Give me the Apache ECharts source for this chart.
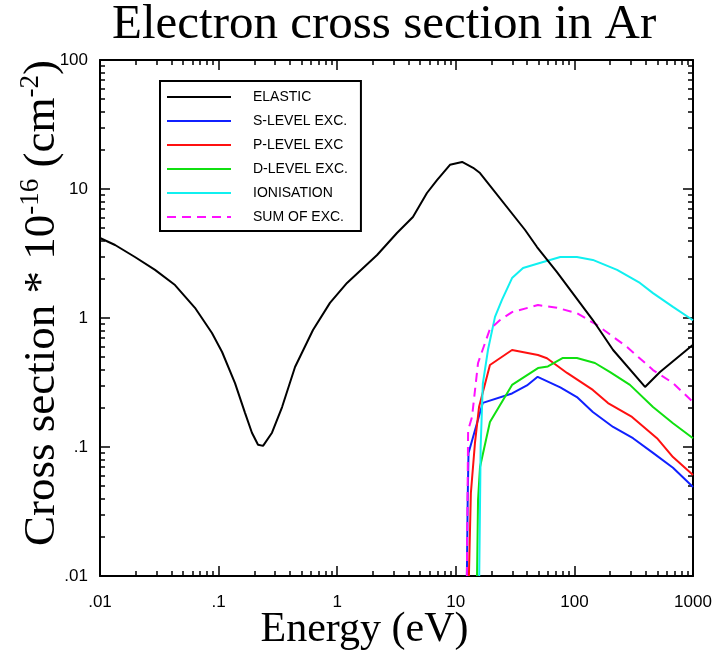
<!DOCTYPE html>
<html><head><meta charset="utf-8">
<script src="https://cdn.jsdelivr.net/npm/echarts@6/dist/echarts.min.js"></script>
<style>html,body{margin:0;padding:0;background:#fff}#c{width:721px;height:650px}</style>
</head><body><div id="c"></div>
<script>
// ---- tick values / labels ----
const xTickValues = [0.01, 0.1, 1, 10, 100, 1000];
const xTickLabels = ['.01', '.1', '1', '10', '100', '1000'];
const yTickValues = [0.01, 0.1, 1, 10, 100];
const yTickLabels = ['.01', '.1', '1', '10', '100'];
const xMinorTicks = [0.02,0.03,0.04,0.05,0.06,0.07,0.08,0.09,
  0.2,0.3,0.4,0.5,0.6,0.7,0.8,0.9, 2,3,4,5,6,7,8,9,
  20,30,40,50,60,70,80,90, 200,300,400,500,600,700,800,900];
const yMinorTicks = [0.02,0.03,0.04,0.05,0.06,0.07,0.08,0.09,
  0.2,0.3,0.4,0.5,0.6,0.7,0.8,0.9, 2,3,4,5,6,7,8,9,
  20,30,40,50,60,70,80,90];

// ---- series data: [energy eV, cross section 1e-16 cm^2] ----
const elastic = [[0.01,4.17],[0.0134,3.68],[0.0197,2.97],[0.0291,2.36],[0.0429,1.80],[0.0632,1.20],
  [0.0879,0.765],[0.107,0.545],[0.1375,0.313],[0.167,0.184],[0.191,0.129],[0.215,0.104],[0.237,0.102],
  [0.282,0.129],[0.343,0.204],[0.441,0.417],[0.625,0.807],[0.869,1.31],[1.21,1.87],[2.17,3.08],
  [3.19,4.56],[4.35,6.07],[5.71,9.31],[6.94,11.7],[8.93,15.4],[11.3,16.2],[14.0,14.6],[16.0,13.3],
  [38.4,4.81],[48.4,3.55],[71.3,2.27],[143,0.964],[212,0.565],[394,0.292],[527,0.381],[1000,0.62]];
const sLevel = [[12.4,0.01],[12.6,0.04],[12.8,0.09],[16.9,0.22],[29.8,0.26],[39.8,0.30],[49,0.35],
  [76,0.29],[105,0.244],[143,0.187],[212,0.143],[312,0.117],[460,0.09],[678,0.069],[1000,0.049]];
const pLevel = [[12.9,0.01],[13.4,0.044],[14.5,0.107],[15.7,0.204],[19.4,0.432],[29.8,0.565],[49.3,0.516],
  [58.7,0.488],[86.7,0.375],[143,0.277],[192,0.219],[306,0.171],[497,0.117],[678,0.0836],[1000,0.0607]];
const dLevel = [[15.1,0.01],[15.4,0.039],[16.0,0.070],[19.4,0.156],[29.8,0.303],[49.3,0.409],[59.8,0.421],
  [80,0.49],[105,0.49],[149,0.448],[200,0.381],[294,0.303],[460,0.204],[678,0.153],[1000,0.117]];
const ionisation = [[15.76,0.01],[16.2,0.1],[16.9,0.31],[18.7,0.57],[21.4,1.02],[24.5,1.38],[29.8,2.04],
  [36.9,2.44],[51,2.67],[76,2.97],[105,2.97],[143,2.82],[229,2.36],[357,1.87],[460,1.56],[678,1.22],[1000,0.96]];
const sumExc = [[12.4,0.01],[12.7,0.135],[13.7,0.171],[15.4,0.448],[19.4,0.822],[23.6,0.964],[29.8,1.11],
  [49.3,1.26],[71.3,1.20],[105,1.09],[155,0.883],[278,0.596],[460,0.395],[678,0.313],[1000,0.223]];

const seriesNames = ['ELASTIC', 'S-LEVEL EXC.', 'P-LEVEL EXC', 'D-LEVEL EXC.', 'IONISATION', 'SUM OF EXC.'];
const seriesData = [elastic, sLevel, pLevel, dLevel, ionisation, sumExc];
const seriesColors = ['#000000', '#1020ff', '#ff1010', '#10e010', '#10f0f0', '#ff10ff'];
const seriesDash = ['solid', 'solid', 'solid', 'solid', 'solid', [9, 6]];

const labelFont = { fontFamily: 'Liberation Sans, Arial, sans-serif', fontSize: 17, color: '#000' };
function fmt(values, labels) {
  return function (v) {
    for (let i = 0; i < values.length; i++) if (Math.abs(v / values[i] - 1) < 1e-6) return labels[i];
    return '';
  };
}
function xAx(pos, ticks, len, showLine, showLabel) {
  return {
    type: 'log', logBase: 10, position: pos, min: 0.01, max: 1000, gridIndex: 0,
    axisLine: { show: showLine, onZero: false, lineStyle: { color: '#000', width: 2 } },
    axisTick: { show: true, inside: true, length: len, customValues: ticks, lineStyle: { color: '#000', width: 1.5 } },
    axisLabel: showLabel ? Object.assign({ show: true, margin: 18, customValues: xTickValues, formatter: fmt(xTickValues, xTickLabels) }, labelFont) : { show: false },
    splitLine: { show: false }, minorTick: { show: false }
  };
}
function yAx(pos, ticks, len, showLine, showLabel) {
  return {
    type: 'log', logBase: 10, position: pos, min: 0.01, max: 100, gridIndex: 0,
    axisLine: { show: showLine, onZero: false, lineStyle: { color: '#000', width: 2 } },
    axisTick: { show: true, inside: true, length: len, customValues: ticks, lineStyle: { color: '#000', width: 1.5 } },
    axisLabel: showLabel ? Object.assign({ show: true, margin: 12, customValues: yTickValues, formatter: fmt(yTickValues, yTickLabels) }, labelFont) : { show: false },
    splitLine: { show: false }, minorTick: { show: false }
  };
}

const xAxes = [xAx('bottom', xTickValues, 10, true, true), xAx('top', xTickValues, 10, true, false),
  xAx('bottom', xMinorTicks, 5, false, false), xAx('top', xMinorTicks, 5, false, false)];
const yAxes = [yAx('left', yTickValues, 10, true, true), yAx('right', yTickValues, 10, true, false),
  yAx('left', yMinorTicks, 5, false, false), yAx('right', yMinorTicks, 5, false, false)];

// Axis names
xAxes[0].name = 'Energy (eV)';
xAxes[0].nameLocation = 'middle';
xAxes[0].nameGap = 33;
xAxes[0].nameMoveOverlap = false;
xAxes[0].nameTextStyle = { fontFamily: 'Liberation Serif, Times New Roman, serif', fontSize: 42, color: '#000', padding: [0, 64, 0, 0] };

yAxes[0].name = '{m|Cross section * 10}{s|-16}{m| (cm}{s|-2}{m|)}';
yAxes[0].nameLocation = 'middle';
yAxes[0].nameGap = 33;
yAxes[0].nameMoveOverlap = false;
yAxes[0].nameRotate = 90;
yAxes[0].nameTextStyle = {
  fontFamily: 'Liberation Serif, Times New Roman, serif', fontSize: 45, color: '#000', padding: [0, 0, 0, 30],
  rich: {
    m: { fontFamily: 'Liberation Serif, Times New Roman, serif', fontSize: 45, color: '#000', lineHeight: 50 },
    s: { fontFamily: 'Liberation Serif, Times New Roman, serif', fontSize: 27, color: '#000', verticalAlign: 'top', lineHeight: 27 }
  }
};

const series = seriesNames.map((n, i) => ({
  name: n, type: 'line', xAxisIndex: 0, yAxisIndex: 0, data: seriesData[i],
  symbol: 'none', smooth: false, clip: true, animation: false,
  lineStyle: { color: seriesColors[i], width: 2, type: seriesDash[i] },
  itemStyle: { color: seriesColors[i] },
  z: i === 0 ? 3 : 2
}));

const chart = echarts.init(document.getElementById('c'), null, { renderer: 'canvas' });
chart.setOption({
  animation: false,
  backgroundColor: '#fff',
  title: {
    text: 'Electron cross section in Ar', left: 112, top: 1, padding: 0,
    textStyle: { fontFamily: 'Liberation Serif, Times New Roman, serif', fontSize: 49, fontWeight: 'normal', color: '#000' }
  },
  grid: { left: 100, top: 60, width: 593, height: 516, containLabel: false, outerBoundsMode: 'none' },
  legend: {
    orient: 'vertical', left: 160, top: 81, data: seriesNames,
    itemWidth: 64, itemHeight: 14, itemGap: 10,
    borderColor: '#000', borderWidth: 2, padding: [9, 13, 7, 6],
    backgroundColor: '#fff',
    itemStyle: { opacity: 0 },
    textStyle: { fontFamily: 'Liberation Sans, Arial, sans-serif', fontSize: 14, color: '#000', padding: [0, 0, 0, 17] }
  },
  xAxis: xAxes,
  yAxis: yAxes,
  series: series
});
</script></body></html>
